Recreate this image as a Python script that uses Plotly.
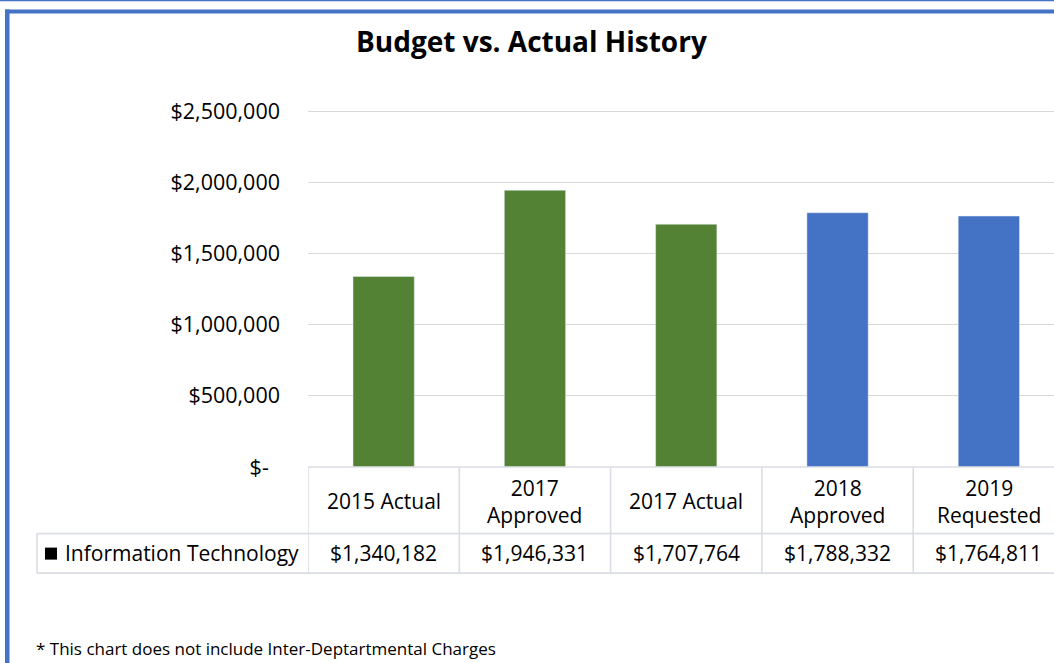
import plotly.graph_objects as go

categories = ["2015 Actual", "2017 Approved", "2017 Actual", "2018 Approved", "2019 Requested"]
header_labels = ["2015 Actual", "2017<br>Approved", "2017 Actual", "2018<br>Approved", "2019<br>Requested"]
values = [1340182, 1946331, 1707764, 1788332, 1764811]
bar_colors = ["#548235", "#548235", "#548235", "#4472C4", "#4472C4"]
series_name = "Information Technology"
y_tickvals = [0, 500000, 1000000, 1500000, 2000000, 2500000]
y_ticktext = ["$-\u00a0\u00a0", "$500,000", "$1,000,000", "$1,500,000", "$2,000,000", "$2,500,000"]

W, H = 1054, 663
L, B = 308, 467
TOP_TICK_PX = 112
YTOP = 2500000
YMAX = 2560000
T = B - (B - TOP_TICK_PX) * YMAX / YTOP
FONT = "Open Sans"
GRID = "#d9d9d9"
TBL = "#dadde3"

def px(x):
    return (x - L) / (W - L)

def py(y):
    return (B - y) / (B - T)

fig = go.Figure()
fig.add_trace(go.Bar(
    x=categories, y=values, marker_color=bar_colors, width=0.405,
    name=series_name, showlegend=False, hoverinfo="x+y",
))

shapes = []
blue = "#4472C4"
shapes.append(dict(type="rect", xref="paper", yref="paper", x0=px(0), x1=px(W), y0=py(0), y1=py(1.8),
                   fillcolor=blue, line_width=0, layer="above"))
shapes.append(dict(type="rect", xref="paper", yref="paper", x0=px(5), x1=px(W), y0=py(10), y1=py(14),
                   fillcolor=blue, line_width=0, layer="above"))
shapes.append(dict(type="rect", xref="paper", yref="paper", x0=px(5), x1=px(9.5), y0=py(10), y1=py(H),
                   fillcolor=blue, line_width=0, layer="above"))

lw = 1.6
shapes.append(dict(type="line", xref="paper", yref="paper", x0=0, x1=1.05, y0=py(467), y1=py(467),
                   line=dict(color=TBL, width=lw)))
for yy in (533.5, 573):
    shapes.append(dict(type="line", xref="paper", yref="paper", x0=px(37), x1=1.05, y0=py(yy), y1=py(yy),
                       line=dict(color=TBL, width=lw)))
shapes.append(dict(type="line", xref="paper", yref="paper", x0=px(37), x1=px(37), y0=py(533.5), y1=py(573),
                   line=dict(color=TBL, width=lw)))
for i in range(len(categories)):
    shapes.append(dict(type="line", xref="x", yref="paper", x0=i - 0.5, x1=i - 0.5, y0=py(467), y1=py(573),
                       line=dict(color=TBL, width=lw)))
shapes.append(dict(type="rect", xref="paper", yref="paper", x0=px(45), x1=px(57), y0=py(547.5), y1=py(559.5),
                   fillcolor="#000000", line_width=0))

annotations = []
annotations.append(dict(text="<b>Budget vs. Actual History</b>", xref="paper", yref="paper",
                        x=px(531), y=py(42), xanchor="center", yanchor="middle", showarrow=False,
                        font=dict(family=FONT, size=28, color="#000000")))
for i, (lab, v) in enumerate(zip(header_labels, values)):
    annotations.append(dict(text=lab, xref="x", yref="paper", x=i, y=py(501), xanchor="center",
                            yanchor="middle", showarrow=False,
                            font=dict(family=FONT, size=21, color="#000000")))
    annotations.append(dict(text=f"${v:,}", xref="x", yref="paper", x=i, y=py(553), xanchor="center",
                            yanchor="middle", showarrow=False,
                            font=dict(family=FONT, size=21, color="#000000")))
annotations.append(dict(text=series_name, xref="paper", yref="paper", x=px(63), y=py(553), xanchor="left",
                        yanchor="middle", showarrow=False, font=dict(family=FONT, size=21, color="#000000")))
annotations.append(dict(text="* This chart does not include Inter-Deptartmental Charges", xref="paper",
                        yref="paper", x=px(34), y=py(648), xanchor="left", yanchor="middle", showarrow=False,
                        font=dict(family=FONT, size=17, color="#000000")))

fig.update_layout(
    width=W, height=H,
    margin=dict(l=L, r=0, t=T, b=H - B, pad=0),
    paper_bgcolor="white", plot_bgcolor="white",
    font=dict(family=FONT, size=21, color="#000000"),
    xaxis=dict(range=[-0.5, -0.5 + (W - L) / 151.3], showticklabels=False, showgrid=False,
               zeroline=False, showline=False, ticks="", fixedrange=True),
    yaxis=dict(range=[0, YMAX], tickvals=y_tickvals, ticktext=y_ticktext, showgrid=True,
               gridcolor=GRID, gridwidth=1.3, zeroline=False, showline=False, ticks="",
               ticklabelstandoff=27, tickfont=dict(family=FONT, size=21.5, color="#000000"),
               fixedrange=True),
    shapes=shapes, annotations=annotations, showlegend=False,
)

fig.write_html("out.html")
